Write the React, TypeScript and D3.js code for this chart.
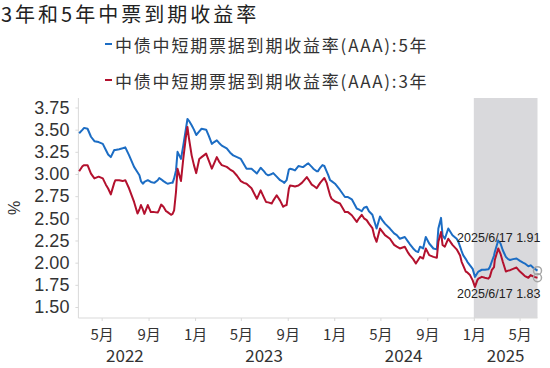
import React, { useEffect, useRef } from 'react'
import * as d3 from 'd3'

// 中债中短期票据到期收益率(AAA)，读图估计
const dates = [
  '2022-03-03', '2022-03-12', '2022-03-16', '2022-03-25', '2022-04-03', '2022-04-12', '2022-04-23', '2022-05-04',
  '2022-05-12', '2022-05-18', '2022-05-25', '2022-06-03', '2022-06-06', '2022-06-16', '2022-06-25', '2022-07-02',
  '2022-07-12', '2022-07-25', '2022-08-03', '2022-08-08', '2022-08-12', '2022-08-17', '2022-08-21', '2022-08-30',
  '2022-09-07', '2022-09-16', '2022-09-25', '2022-09-29', '2022-10-04', '2022-10-10', '2022-10-17', '2022-10-21',
  '2022-10-30', '2022-11-03', '2022-11-07', '2022-11-12', '2022-11-16', '2022-11-25', '2022-12-01', '2022-12-08',
  '2022-12-12', '2022-12-16', '2022-12-23', '2022-12-29', '2023-01-04', '2023-01-12', '2023-01-18', '2023-01-30',
  '2023-02-06', '2023-02-14', '2023-02-20', '2023-02-27', '2023-03-05', '2023-03-12', '2023-03-25', '2023-04-03',
  '2023-04-11', '2023-04-21', '2023-05-01', '2023-05-09', '2023-05-16', '2023-05-29', '2023-06-12', '2023-06-22',
  '2023-07-01', '2023-07-06', '2023-07-12', '2023-07-21', '2023-07-25', '2023-08-03', '2023-08-12', '2023-08-20',
  '2023-08-23', '2023-08-29', '2023-09-04', '2023-09-07', '2023-09-15', '2023-09-20', '2023-09-29', '2023-10-08',
  '2023-10-12', '2023-10-21', '2023-10-25', '2023-11-03', '2023-11-07', '2023-11-16', '2023-11-19', '2023-11-25',
  '2023-12-01', '2023-12-06', '2023-12-12', '2023-12-16', '2023-12-21', '2023-12-25', '2024-01-03', '2024-01-16',
  '2024-01-29', '2024-02-06', '2024-02-16', '2024-02-29', '2024-03-06', '2024-03-13', '2024-03-19', '2024-03-26',
  '2024-04-01', '2024-04-10', '2024-04-15', '2024-04-21', '2024-04-30', '2024-05-06', '2024-05-13', '2024-05-26',
  '2024-06-06', '2024-06-13', '2024-06-21', '2024-07-04', '2024-07-13', '2024-07-17', '2024-07-26', '2024-08-02',
  '2024-08-08', '2024-08-13', '2024-08-21', '2024-08-28', '2024-09-06', '2024-09-17', '2024-09-26', '2024-09-30',
  '2024-10-07', '2024-10-11', '2024-10-17', '2024-10-26', '2024-11-06', '2024-11-17', '2024-11-21', '2024-11-26',
  '2024-11-30', '2024-12-04', '2024-12-11', '2024-12-15', '2024-12-22', '2024-12-29', '2025-01-04', '2025-01-10',
  '2025-01-13', '2025-01-22', '2025-01-30', '2025-02-08', '2025-02-12', '2025-02-17', '2025-02-23', '2025-02-25',
  '2025-03-06', '2025-03-12', '2025-03-18', '2025-03-26', '2025-04-01', '2025-04-06', '2025-04-14', '2025-04-23',
  '2025-05-02', '2025-05-10', '2025-05-15', '2025-05-24', '2025-05-30', '2025-06-08', '2025-06-17',
]

const yield5y = [
  3.46, 3.50, 3.52, 3.51, 3.42, 3.37, 3.36, 3.34,
  3.27, 3.22, 3.19, 3.27, 3.27, 3.28, 3.29, 3.30,
  3.21, 3.08, 3.02, 2.985, 2.92, 2.89, 2.91, 2.93,
  2.91, 2.90, 2.93, 2.955, 2.94, 2.92, 2.90, 2.89,
  2.90, 2.90, 2.95, 3.04, 3.25, 3.17, 3.32, 3.51,
  3.62, 3.60, 3.55, 3.50, 3.44, 3.48, 3.51, 3.50,
  3.43, 3.34, 3.36, 3.38, 3.35, 3.32, 3.29, 3.24,
  3.21, 3.19, 3.17, 3.11, 3.06, 3.06, 3.005, 3.07,
  3.03, 3.00, 2.985, 3.00, 3.01, 2.97, 2.93, 2.91,
  2.90, 2.93, 3.05, 3.06, 3.05, 3.04, 3.09, 3.08,
  3.08, 3.11, 3.12, 3.08, 3.06, 3.03, 3.03, 3.07,
  3.10, 3.09, 3.03, 2.99, 2.93, 2.92, 2.89, 2.82,
  2.74, 2.74, 2.715, 2.61, 2.60, 2.58, 2.62, 2.63,
  2.58, 2.54, 2.47, 2.385, 2.52, 2.48, 2.44, 2.385,
  2.33, 2.31, 2.27, 2.29, 2.235, 2.21, 2.16, 2.13,
  2.12, 2.18, 2.16, 2.29, 2.216, 2.16, 2.15, 2.385,
  2.505, 2.31, 2.27, 2.385, 2.31, 2.27, 2.24, 2.18,
  2.13, 2.085, 2.04, 2.01, 1.97, 1.93, 1.84, 1.88,
  1.90, 1.92, 1.92, 1.925, 1.95, 2.01, 2.08, 2.12,
  2.25, 2.216, 2.14, 2.065, 2.04, 2.03, 2.04, 2.047,
  2.02, 2.00, 1.99, 1.96, 1.97, 1.935, 1.91,
]

const yield3y = [
  3.03, 3.09, 3.10, 3.10, 3.005, 2.95, 2.97, 2.95,
  2.88, 2.836, 2.77, 2.90, 2.93, 2.93, 2.92, 2.93,
  2.836, 2.685, 2.554, 2.60, 2.65, 2.60, 2.55, 2.65,
  2.57, 2.57, 2.565, 2.60, 2.655, 2.63, 2.58, 2.57,
  2.54, 2.55, 2.59, 2.80, 3.06, 2.92, 3.17, 3.42,
  3.53, 3.40, 3.21, 3.10, 3.01, 3.17, 3.19, 3.23,
  3.15, 3.06, 3.12, 3.19, 3.14, 3.10, 3.08, 3.05,
  3.03, 2.98, 2.92, 2.90, 2.89, 2.84, 2.72, 2.815,
  2.73, 2.685, 2.68, 2.667, 2.70, 2.76, 2.70, 2.63,
  2.64, 2.65, 2.836, 2.87, 2.865, 2.86, 2.87, 2.90,
  2.92, 2.965, 2.94, 2.88, 2.87, 2.84, 2.86, 2.90,
  2.93, 2.955, 2.90, 2.836, 2.76, 2.72, 2.69, 2.667,
  2.57, 2.57, 2.535, 2.46, 2.50, 2.54, 2.50, 2.48,
  2.44, 2.39, 2.30, 2.235, 2.385, 2.35, 2.31, 2.27,
  2.20, 2.18, 2.16, 2.18, 2.11, 2.085, 2.04, 1.99,
  2.03, 2.065, 2.047, 2.16, 2.085, 2.065, 2.055, 2.235,
  2.347, 2.20, 2.18, 2.27, 2.20, 2.15, 2.12, 2.08,
  2.01, 1.97, 1.90, 1.89, 1.86, 1.80, 1.727, 1.80,
  1.82, 1.84, 1.83, 1.82, 1.84, 1.915, 1.95, 2.03,
  2.16, 2.10, 2.01, 1.90, 1.91, 1.915, 1.93, 1.945,
  1.90, 1.87, 1.848, 1.83, 1.86, 1.84, 1.83,
]

const seriesNames = ['中债中短期票据到期收益率(AAA):5年', '中债中短期票据到期收益率(AAA):3年']
const yTicks = [1.5, 1.75, 2.0, 2.25, 2.5, 2.75, 3.0, 3.25, 3.5, 3.75]
const years = [2022, 2023, 2024, 2025]
const shadeStart = '2025-01-01'
const axisStart = '2022-03-01'

const W = 550
const H = 368
const CJK = '"Noto Sans CJK SC", "Noto Sans", sans-serif'
const NUM = '"Liberation Sans", Arial, sans-serif'
const colors = ['#1c6dc4', '#b3112e']

export default function App() {
  const ref = useRef<SVGSVGElement>(null)

  useEffect(() => {
    const parse = d3.timeParse('%Y-%m-%d')
    const xs = dates.map(d => parse(d) as Date)
    const series = [yield5y, yield3y]

    const margin = { top: 98, right: 12.5, bottom: 50, left: 78.4 }
    const innerW = W - margin.left - margin.right
    const innerH = H - margin.top - margin.bottom

    const x = d3.scaleTime()
      .domain([parse(axisStart) as Date, xs[xs.length - 1]])
      .range([0, innerW])
    const y = d3.scaleLinear()
      .domain([1.376, 3.857])
      .range([innerH, 0])

    const svg = d3.select(ref.current)
    svg.selectAll('*').remove()

    // title + legend
    svg.append('text')
      .attr('x', 1).attr('y', 22)
      .attr('font-family', CJK).attr('font-size', 20)
      .attr('letter-spacing', 3)
      .attr('fill', '#222')
      .text('3年和5年中票到期收益率')

    seriesNames.forEach((name, i) => {
      const ly = 44 + i * 36
      svg.append('line')
        .attr('x1', 105).attr('x2', 112)
        .attr('y1', ly).attr('y2', ly)
        .attr('stroke', colors[i]).attr('stroke-width', 2)
      svg.append('text')
        .attr('x', 115).attr('y', ly + 8)
        .attr('font-family', CJK).attr('font-size', 17)
        .attr('letter-spacing', 1.8)
        .attr('fill', '#333')
        .text(name)
    })

    const g = svg.append('g')
      .attr('transform', `translate(${margin.left},${margin.top})`)

    // shaded 2025 period
    g.append('rect')
      .attr('x', x(parse(shadeStart) as Date))
      .attr('y', 0)
      .attr('width', x(xs[xs.length - 1]) - x(parse(shadeStart) as Date))
      .attr('height', innerH)
      .attr('fill', '#d9d9dc')

    // y axis
    const yAxis = g.append('g')
      .call(d3.axisLeft(y).tickValues(yTicks).tickFormat(d3.format('.2f')).tickSize(3).tickPadding(6))
    yAxis.select('.domain').attr('stroke', '#d9d9d9').attr('d', `M0,0V${innerH}`)
    yAxis.selectAll('.tick line').attr('stroke', '#d9d9d9')
    yAxis.selectAll('.tick text')
      .attr('font-family', NUM).attr('font-size', 18).attr('fill', '#333')

    // x axis
    const xAxis = g.append('g')
      .attr('transform', `translate(0,${innerH})`)
      .call(d3.axisBottom(x)
        .ticks(d3.timeMonth.every(4))
        .tickFormat(d => `${(d as Date).getMonth() + 1}月`)
        .tickSize(3).tickPadding(8))
    xAxis.select('.domain').attr('stroke', '#d9d9d9').attr('d', `M0,0H${innerW}`)
    xAxis.selectAll('.tick line').attr('stroke', '#d9d9d9')
    xAxis.selectAll('.tick text')
      .attr('font-family', CJK).attr('font-size', 15).attr('fill', '#333')

    // year labels
    const end = xs[xs.length - 1]
    const start = parse(axisStart) as Date
    years.forEach(yr => {
      const a = d3.max([new Date(yr, 0, 1), start]) as Date
      const b = d3.min([new Date(yr, 11, 31), end]) as Date
      let mid = new Date(yr, 6, 1)
      if (mid > b || mid < a) mid = new Date((a.getTime() + b.getTime()) / 2)
      g.append('text')
        .attr('x', x(mid)).attr('y', innerH + 44)
        .attr('text-anchor', 'middle')
        .attr('font-family', CJK).attr('font-size', 17).attr('fill', '#333')
        .text(String(yr))
    })

    // % label
    svg.append('text')
      .attr('transform', 'translate(20,208) rotate(-90)')
      .attr('text-anchor', 'middle')
      .attr('font-family', NUM).attr('font-size', 16).attr('fill', '#333')
      .text('%')

    // lines
    series.forEach((vals, i) => {
      const line = d3.line<number>()
        .x((_, j) => x(xs[j]))
        .y(v => y(v))
      g.append('path')
        .datum(vals)
        .attr('d', line)
        .attr('fill', 'none')
        .attr('stroke', colors[i])
        .attr('stroke-width', 2)
        .attr('stroke-linejoin', 'round')
    })

    // end markers + annotations
    const lastLabel = '2025/6/17'
    series.forEach((vals, i) => {
      const v = vals[vals.length - 1]
      g.append('circle')
        .attr('cx', x(end)).attr('cy', y(v)).attr('r', 4)
        .attr('fill', 'none').attr('stroke', '#a6a6a6').attr('stroke-width', 1.5)
      g.append('text')
        .attr('x', x(end) + 3)
        .attr('y', i === 0 ? y(v) - 29 : y(v) + 20)
        .attr('text-anchor', 'end')
        .attr('font-family', NUM).attr('font-size', 12.5).attr('fill', '#222')
        .text(`${lastLabel} ${v.toFixed(2)}`)
    })
  }, [])

  return (
    <svg ref={ref} width={W} height={H}
      style={{ position: 'absolute', left: 0, top: 0, background: '#fff' }} />
  )
}
